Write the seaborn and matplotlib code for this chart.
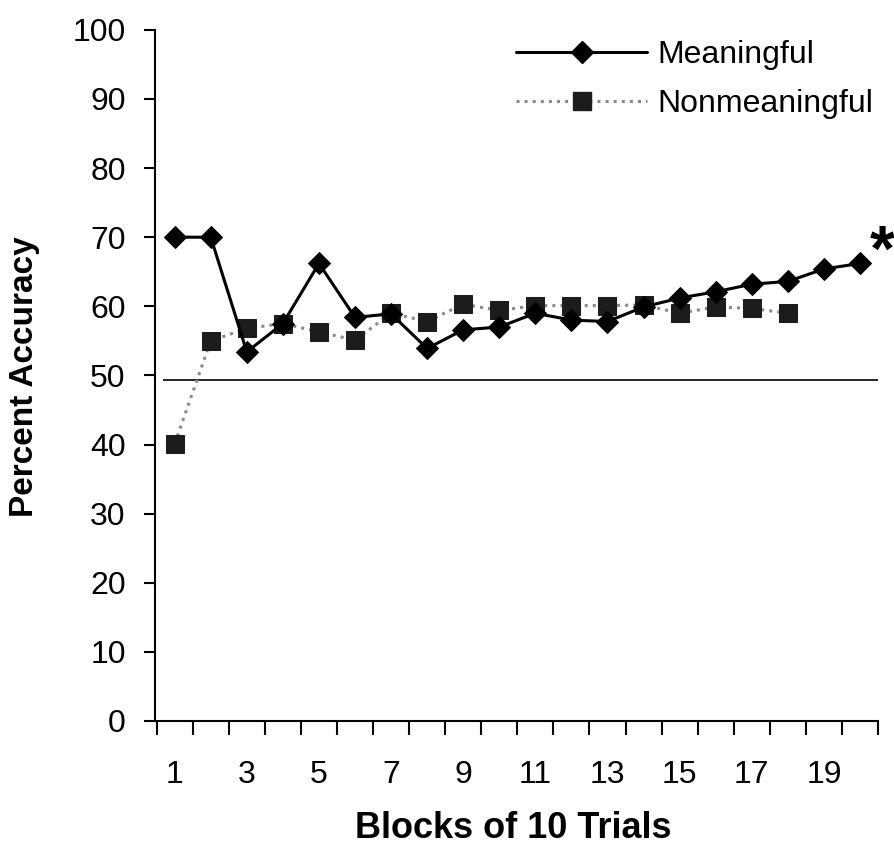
import matplotlib
matplotlib.use('Agg')
import numpy as np
import seaborn as sns
import matplotlib.pyplot as plt
from matplotlib.lines import Line2D

# values
blocks = list(range(1, 21))
meaningful = [70.0, 70.0, 53.4, 57.5, 66.2, 58.4, 58.9, 53.9, 56.6, 57.0,
              59.0, 58.0, 57.8, 59.9, 61.2, 62.1, 63.2, 63.6, 65.4, 66.2]
nonmeaningful = [40.1, 55.0, 56.8, 57.5, 56.3, 55.1, 59.0, 57.8, 60.3, 59.4,
                 60.1, 60.1, 60.1, 60.2, 59.0, 59.9, 59.7, 59.0]
chance = 49.3
xtick_labels = [1, 3, 5, 7, 9, 11, 13, 15, 17, 19]

sns.set_style('white')
plt.rcParams['font.family'] = ['Liberation Sans', 'DejaVu Sans']
plt.rcParams['text.color'] = 'black'
plt.rcParams['axes.labelcolor'] = 'black'
plt.rcParams['xtick.color'] = 'black'
plt.rcParams['ytick.color'] = 'black'

fig = plt.figure(figsize=(8.95, 8.48), dpi=100)
ax = fig.add_axes([0.173, 0.1498, 0.808, 0.815])

sq_col = '#1c1c1c'
sns.lineplot(x=blocks[:len(nonmeaningful)], y=nonmeaningful, ax=ax,
             color='#8a8a8a', linestyle=':', lw=2.2, marker='s', markersize=12.5,
             markerfacecolor=sq_col, markeredgecolor=sq_col, zorder=3)
sns.lineplot(x=blocks, y=meaningful, ax=ax, color='black', lw=2.2,
             marker='D', markersize=11, markerfacecolor='black',
             markeredgecolor='black', zorder=4)

ax.hlines(chance, 0.68, 20.5, color='black', lw=1.2, zorder=2)

ax.text(20.62, 67.6, '*', fontsize=46, fontweight='bold', ha='center',
        va='center', clip_on=False)

ax.set_xlim(0.45, 20.5)
ax.set_ylim(0, 100)
ax.set_yticks(np.arange(0, 101, 10))
ax.set_xticks(xtick_labels)
ax.set_xticklabels([str(v) for v in xtick_labels])
ax.set_xticks(np.arange(0.5, 21, 1), minor=True)

ax.tick_params(axis='x', which='major', length=0, pad=28, labelsize=23)
ax.tick_params(axis='x', which='minor', length=10, width=1.5,
               direction='out', color='black', bottom=True)
ax.tick_params(axis='y', length=8, width=1.5, pad=13, labelsize=23,
               direction='out', color='black', left=True)

for s in ['top', 'right']:
    ax.spines[s].set_visible(False)
for s in ['left', 'bottom']:
    ax.spines[s].set_linewidth(1.5)
    ax.spines[s].set_color('black')

ax.set_xlabel('Blocks of 10 Trials', fontsize=26, fontweight='bold')
ax.set_ylabel('Percent Accuracy', fontsize=24, fontweight='bold')
ax.xaxis.label.set_va('center')
ax.yaxis.label.set_va('center')
ax.xaxis.set_label_coords(0.496, -0.155)
ax.yaxis.set_label_coords(-0.18, 0.498)

handles = [
    Line2D([], [], color='black', lw=2.2, marker='D', markersize=11,
           markerfacecolor='black', markeredgecolor='black'),
    Line2D([], [], color='#8a8a8a', lw=2.2, linestyle=':', marker='s',
           markersize=12.5, markerfacecolor=sq_col, markeredgecolor=sq_col),
]
ax.legend(handles, ['Meaningful', 'Nonmeaningful'], loc='upper left',
          bbox_to_anchor=(0.5, 0.985), frameon=False, fontsize=23,
          handlelength=4.1, handletextpad=0.3, labelspacing=0.6,
          borderpad=0, borderaxespad=0, markerscale=1)

fig.savefig('out.png', dpi=100)
